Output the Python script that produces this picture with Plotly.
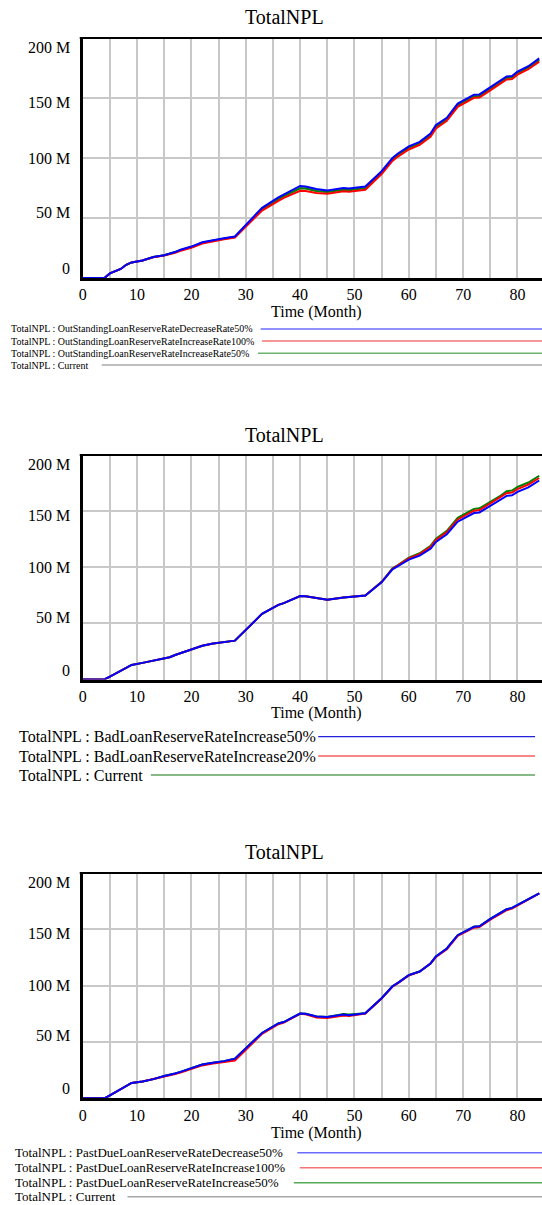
import plotly.graph_objects as go

W, H = 542, 1205

# ---------------- data (values in millions) ----------------
T = [0, 4, 5, 7, 8, 9, 11, 12, 13, 15, 16, 17, 18, 20, 22, 24, 26, 28, 33, 36, 37, 40, 41, 43, 45,
     48, 49, 52, 55, 57, 58, 60, 62, 64, 65, 67, 69, 72, 73, 75, 77, 78, 79, 80, 82, 84]

# Panel 1: OutStandingLoanReserveRate scenarios
P1_DEC50 = [0, 0, 3.8, 7.5, 11, 13, 14.6, 16, 17.5, 19, 20.2, 21.6, 23.5, 26.2, 29.8, 31.8, 33.2, 34.6, 58.5, 67.2,
            69.7, 76.7, 76.2, 74.2, 73, 75, 74.5, 76.2, 89, 100, 103.8, 109.7, 113.5, 120.3, 127.5, 133.5, 145.3,
            152.8, 153, 159, 164.5, 168, 168.3, 172, 176.5, 183]
P1_INC100 = [0, 0, 3.8, 7.5, 11, 13, 14.6, 16, 17.3, 18.7, 19.8, 21, 22.7, 25.2, 28.7, 30.7, 32.2, 33.6, 56.2, 64.3,
             66.8, 72.7, 72.5, 70.8, 70.2, 72.2, 71.8, 73.6, 86.6, 97.6, 101.2, 107.1, 111, 117.6, 124.6, 131, 142.6,
             150.2, 150.4, 156.4, 162, 165.4, 165.8, 169.4, 174, 180.3]
P1_INC50 = [0, 0, 3.8, 7.5, 11, 13, 14.6, 16, 17.5, 19, 20.2, 21.4, 23.2, 25.8, 29.3, 31.3, 32.8, 34.2, 57.3, 65.8,
            68.2, 74.8, 74.5, 72.5, 71.6, 73.6, 73.2, 74.9, 87.8, 98.8, 102.5, 108.4, 112.2, 119, 126, 132.2, 143.9,
            151.5, 151.7, 157.7, 163.2, 166.7, 167, 170.7, 175.2, 181.6]
P1_CURRENT = [0, 0, 3.8, 7.5, 11, 13, 14.6, 16, 17.5, 19, 20.2, 21.4, 23.3, 25.9, 29.4, 31.4, 32.9, 34.3, 57.5, 66,
              68.4, 75, 74.7, 72.7, 71.8, 73.8, 73.4, 75.1, 88, 99, 102.7, 108.6, 112.4, 119.2, 126.2, 132.4, 144.1,
              151.7, 151.9, 157.9, 163.4, 166.9, 167.2, 170.9, 175.4, 181.8]

# Panel 2: BadLoanReserveRate scenarios
P2_INC50 = [0, 0, 2.6, 7.8, 10.4, 13, 14.8, 15.7, 16.8, 18.5, 19.8, 21.8, 23.5, 27, 30, 32, 33.3, 34.6, 58.5, 66.5,
            68, 74.4, 74.2, 72.5, 71.1, 73, 73.3, 74.8, 86.5, 98.2, 100.9, 106.8, 110.3, 116.4, 122.6, 129.4, 140.6,
            148.3, 148.8, 154.6, 160, 163.6, 164.1, 167.1, 171.1, 177.3]
P2_INC20 = [0, 0, 2.6, 7.8, 10.4, 13, 14.8, 15.7, 16.8, 18.5, 19.8, 21.8, 23.5, 27, 30, 32, 33.3, 34.6, 58.5, 66.5,
            68, 74.4, 74.2, 72.5, 71.1, 73, 73.3, 74.8, 86.8, 98.7, 101.6, 107.9, 111.7, 118.1, 124.4, 131.3, 142.6,
            150.4, 150.9, 156.8, 162.3, 166, 166.5, 169.6, 173.6, 179.5]
P2_CURRENT = [0, 0, 2.6, 7.8, 10.4, 13, 14.8, 15.7, 16.8, 18.5, 19.8, 21.8, 23.5, 27, 30, 32, 33.3, 34.6, 58.5, 66.5,
              68, 74.4, 74.2, 72.5, 71.1, 73, 73.3, 74.8, 87, 99, 102, 108.5, 112.5, 119, 125.5, 132.5, 144,
              152, 152.5, 158.5, 164, 167.8, 168.3, 171.5, 175.5, 181.5]

# Panel 3: PastDueLoanReserveRate scenarios
P3_DEC50 = [0, 0, 2.7, 8.1, 10.8, 13.6, 15, 16, 17, 19.8, 20.7, 22, 23.5, 26.7, 30, 31.6, 33, 35.2, 58, 66.4,
            67.7, 75.2, 75, 72.6, 72.2, 74.3, 73.8, 75.5, 88.8, 99.5, 102.5, 109.3, 112.5, 119.7, 126, 133, 144.8,
            152.2, 152.7, 159.3, 165, 167.8, 169, 171.5, 176.5, 182]
P3_INC100 = [0, 0, 2.7, 8.1, 10.8, 13.6, 15, 16, 17, 19.5, 20.3, 21.5, 22.8, 25.9, 29.2, 30.8, 32.2, 33.4, 57.2, 65.8,
             67.2, 75, 74.6, 71.8, 71.2, 73.4, 73, 75.2, 88.5, 99.2, 102.2, 109, 112.4, 119.6, 125.4, 132.3, 144.2,
             151.5, 152, 158.5, 164.2, 167, 168.4, 171.1, 176.2, 181.8]
P3_INC50 = [0, 0, 2.7, 8.1, 10.8, 13.6, 15, 16, 17, 19.8, 20.7, 22, 23.5, 26.7, 30, 31.6, 33, 35.2, 58, 66.4,
            67.7, 75.2, 75, 72.6, 72.2, 74.8, 74.3, 75.5, 88.8, 99.5, 102.5, 109.3, 112.5, 119.7, 126, 133, 144.8,
            152.2, 152.7, 159.3, 165, 167.8, 169, 171.5, 176.5, 182]
P3_CURRENT = [0, 0, 2.7, 8.1, 10.8, 13.6, 15, 16, 17, 19.8, 20.7, 22, 23.5, 26.7, 30, 31.6, 33, 35.2, 58, 66.4,
              67.7, 75.2, 75, 72.6, 72.2, 74.3, 73.8, 75.5, 88.8, 99.5, 102.5, 109.3, 112.5, 119.7, 126, 133, 144.8,
              152.2, 152.7, 159.3, 165, 167.8, 169, 171.5, 176.5, 182]

TITLE = "TotalNPL"
X_TITLE = "Time (Month)"
X_TICK_VALS = [0, 5, 10, 15, 20, 25, 30, 35, 40, 45, 50, 55, 60, 65, 70, 75, 80, 85]
X_TICK_TEXT = ["0", "", "10", "", "20", "", "30", "", "40", "", "50", "", "60", "", "70", "", "80", ""]
Y_TICK_VALS = [0, 50e6, 100e6, 150e6, 200e6]
Y_TICK_TEXT = ["0", "50 M", "100 M", "150 M", "200 M"]

BLUE, RED, GREEN, GRAY = "#0000ff", "#ff0000", "#008000", "#999999"

PANELS = [
    dict(series=[("TotalNPL : Current", P1_CURRENT, GRAY),
                 ("TotalNPL : OutStandingLoanReserveRateIncreaseRate50%", P1_INC50, GREEN),
                 ("TotalNPL : OutStandingLoanReserveRateIncreaseRate100%", P1_INC100, RED),
                 ("TotalNPL : OutStandingLoanReserveRateDecreaseRate50%", P1_DEC50, BLUE)],
         legend=[("TotalNPL : OutStandingLoanReserveRateDecreaseRate50%", "#6a6aff", 258.6),
                 ("TotalNPL : OutStandingLoanReserveRateIncreaseRate100%", "#f57373", 260.0),
                 ("TotalNPL : OutStandingLoanReserveRateIncreaseRate50%", "#6db36d", 255.8),
                 ("TotalNPL : Current", "#a8a8a8", 98.5)],
         top=38, bot=278, title_y=16.7, xtitle_y=311.7,
         leg_y=[329, 341, 353.3, 365], leg_font=10, leg_x=5.0, leg_end=542, leg_w=1.6),
    dict(series=[("TotalNPL : Current", P2_CURRENT, GREEN),
                 ("TotalNPL : BadLoanReserveRateIncrease20%", P2_INC20, RED),
                 ("TotalNPL : BadLoanReserveRateIncrease50%", P2_INC50, BLUE)],
         legend=[("TotalNPL : BadLoanReserveRateIncrease50%", "#2222dd", 316.5),
                 ("TotalNPL : BadLoanReserveRateIncrease20%", "#ee1111", 316.5),
                 ("TotalNPL : Current", "#117711", 148.0)],
         top=455, bot=679.5, title_y=435, xtitle_y=713.3,
         leg_y=[736.7, 756, 775], leg_font=16, leg_x=13.0, leg_end=535, leg_w=1.2),
    dict(series=[("TotalNPL : Current", P3_CURRENT, GRAY),
                 ("TotalNPL : PastDueLoanReserveRateIncrease50%", P3_INC50, GREEN),
                 ("TotalNPL : PastDueLoanReserveRateIncrease100%", P3_INC100, RED),
                 ("TotalNPL : PastDueLoanReserveRateDecrease50%", P3_DEC50, BLUE)],
         legend=[("TotalNPL : PastDueLoanReserveRateDecrease50%", "#6a6aff", 295.5),
                 ("TotalNPL : PastDueLoanReserveRateIncrease100%", "#f57373", 298.0),
                 ("TotalNPL : PastDueLoanReserveRateIncrease50%", "#55aa55", 292.0),
                 ("TotalNPL : Current", "#a8a8a8", 124.4)],
         top=873, bot=1098.3, title_y=851.7, xtitle_y=1132.5,
         leg_y=[1152.7, 1167.7, 1182.7, 1196.7], leg_font=13, leg_x=9.0, leg_end=542, leg_w=1.6),
]

# ---------------- geometry helpers (pixels -> paper) ----------------
X0_PX = 79.3
PX_PER_UNIT = 5.475
X_MAX = (W - X0_PX) / PX_PER_UNIT
Y_LABEL_SHIFT = [9.5, 6.0, 0.0, -4.5, -9.5]


def px(x):
    return x / W


def py(y):
    return 1 - y / H


FONT = "Liberation Serif"

fig = go.Figure()
annotations = []
shapes = []

for i, p in enumerate(PANELS, start=1):
    xa = "x" if i == 1 else f"x{i}"
    ya = "y" if i == 1 else f"y{i}"
    for name, vals, color in p["series"]:
        fig.add_trace(go.Scatter(
            x=T, y=[v * 1e6 for v in vals], mode="lines", name=name,
            line=dict(color=color, width=2), xaxis=xa, yaxis=ya, showlegend=False,
            hoverinfo="skip"))

    dom_y = [py(p["bot"]), py(p["top"])]
    xkey = "xaxis" if i == 1 else f"xaxis{i}"
    ykey = "yaxis" if i == 1 else f"yaxis{i}"
    fig.layout[xkey] = dict(
        domain=[px(X0_PX), 1], range=[0, X_MAX], anchor=ya,
        tickmode="array", tickvals=X_TICK_VALS, ticktext=X_TICK_TEXT,
        showgrid=True, gridcolor="#c8c8c8", gridwidth=1.5,
        showline=True, linecolor="black", linewidth=3, ticks="",
        tickfont=dict(family=FONT, size=16, color="black"),
        ticklabelstandoff=0, zeroline=False, fixedrange=True)
    fig.layout[ykey] = dict(
        domain=dom_y, range=[0, 200e6], anchor=xa,
        tickmode="array", tickvals=Y_TICK_VALS, showticklabels=False,
        showgrid=True, gridcolor="#c8c8c8", gridwidth=1.5,
        showline=True, linecolor="black", linewidth=3, ticks="",
        zeroline=False, fixedrange=True)

    # top border
    shapes.append(dict(type="line", xref="paper", yref="paper",
                       x0=px(X0_PX - 3), x1=1, y0=py(p["top"]), y1=py(p["top"]),
                       line=dict(color="black", width=2)))

    # y tick labels (Vensim style, compressed towards the middle)
    for val, txt, sh in zip(Y_TICK_VALS, Y_TICK_TEXT, Y_LABEL_SHIFT):
        annotations.append(dict(x=px(68.5), y=val, xref="paper", yref=ya, text=txt,
                                showarrow=False, xanchor="right", yanchor="middle", yshift=sh,
                                font=dict(family=FONT, size=16, color="black")))

    # title
    annotations.append(dict(x=px(283), y=py(p["title_y"]), xref="paper", yref="paper", text=TITLE,
                            showarrow=False, xanchor="center", yanchor="middle",
                            font=dict(family=FONT, size=20, color="black")))
    # x axis title
    annotations.append(dict(x=px(315), y=py(p["xtitle_y"]), xref="paper", yref="paper", text=X_TITLE,
                            showarrow=False, xanchor="center", yanchor="middle",
                            font=dict(family=FONT, size=16, color="black")))
    # legend
    for (txt, col, lx), ly in zip(p["legend"], p["leg_y"]):
        annotations.append(dict(x=px(p["leg_x"]), y=py(ly), xref="paper", yref="paper", text=txt,
                                showarrow=False, xanchor="left", yanchor="middle",
                                font=dict(family=FONT, size=p["leg_font"], color="black")))
        shapes.append(dict(type="line", xref="paper", yref="paper",
                           x0=px(lx), x1=px(p["leg_end"]), y0=py(ly), y1=py(ly),
                           line=dict(color=col, width=p["leg_w"])))

fig.update_layout(
    width=W, height=H, margin=dict(l=0, r=0, t=0, b=0),
    paper_bgcolor="white", plot_bgcolor="white",
    font=dict(family=FONT, color="black"),
    annotations=annotations, shapes=shapes, showlegend=False)

fig.write_html("out.html", config={"displayModeBar": False},
               post_script="document.body.style.margin='0';document.body.style.overflow='hidden';")
